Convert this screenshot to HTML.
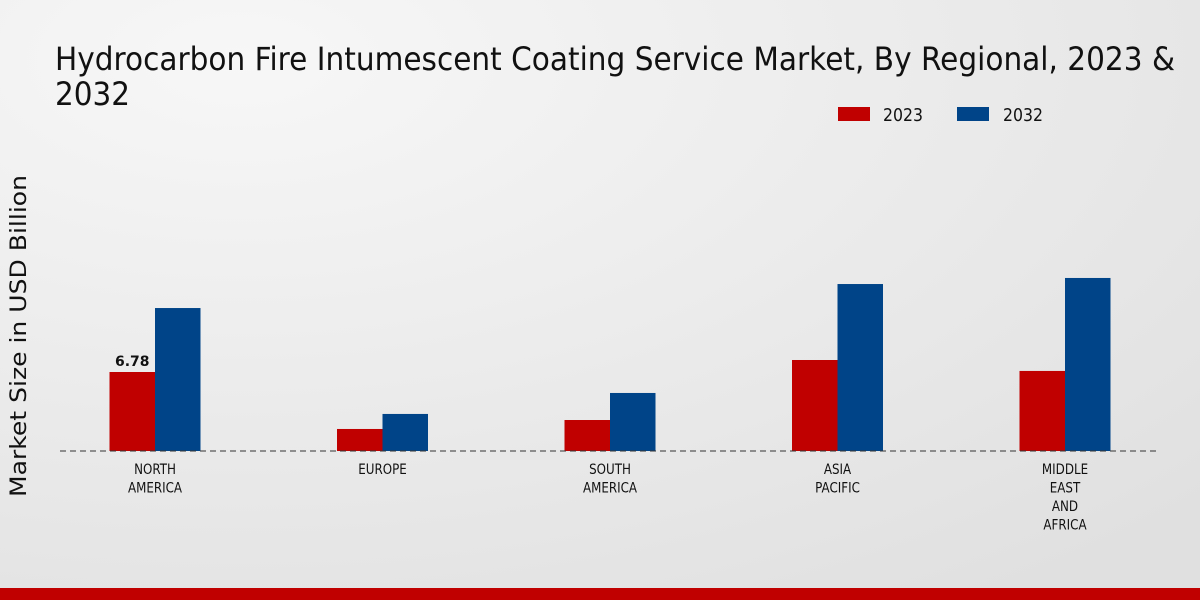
<!DOCTYPE html>
<html><head><meta charset="utf-8"><style>
html,body{margin:0;padding:0;width:1200px;height:600px;overflow:hidden}
svg{display:block;font-family:"DejaVu Sans","Liberation Sans",sans-serif}
</style></head><body>
<svg id="chart" width="1200" height="600" viewBox="0 0 1200 600">
<defs><radialGradient id="bg" cx="0.2" cy="0.1" r="1.1"><stop offset="0" stop-color="#f7f7f7"/><stop offset="1" stop-color="#e0e0e0"/></radialGradient></defs>
<rect width="1200" height="600" fill="url(#bg)"/>
<text x="55" y="70" font-size="32" fill="#111" textLength="1120" lengthAdjust="spacingAndGlyphs">Hydrocarbon Fire Intumescent Coating Service Market, By Regional, 2023 &amp;</text>
<text x="55" y="105" font-size="32" fill="#111" textLength="75" lengthAdjust="spacingAndGlyphs">2032</text>
<rect x="838" y="107" width="32" height="14" fill="#c00000"/>
<text x="883" y="121" font-size="18" fill="#111" textLength="40" lengthAdjust="spacingAndGlyphs">2023</text>
<rect x="957" y="107" width="32" height="14" fill="#004488"/>
<text x="1003" y="121" font-size="18" fill="#111" textLength="40" lengthAdjust="spacingAndGlyphs">2032</text>
<text transform="translate(26,336) rotate(-90)" text-anchor="middle" font-size="22" fill="#111" textLength="322" lengthAdjust="spacingAndGlyphs">Market Size in USD Billion</text>
<g id="bars"></g>
<line x1="60" y1="451" x2="1160" y2="451" stroke="#333" stroke-dasharray="6,4"/>
<rect x="0" y="588" width="1200" height="12" fill="#c00000"/>
</svg>
<script>
const categories=[["NORTH","AMERICA"],["EUROPE"],["SOUTH","AMERICA"],["ASIA","PACIFIC"],["MIDDLE","EAST","AND","AFRICA"]];
const values2023=[6.78,1.89,2.66,7.81,6.87];
const values2032=[12.27,3.18,4.98,14.33,14.85];
const labels2023=["6.78","","","",""];
const NS="http://www.w3.org/2000/svg";
const g=document.getElementById('bars');
const baseY=451, scale=79/6.78, x0=155, step=227.5, bw=45.5;
const yOf=v=>baseY-v*scale;
function mk(t,a){const e=document.createElementNS(NS,t);for(const k in a)e.setAttribute(k,a[k]);g.appendChild(e);return e;}
categories.forEach((c,i)=>{
 const cx=x0+i*step;
 const r=mk('rect',{x:cx-bw,y:yOf(values2023[i]),width:bw,height:baseY-yOf(values2023[i]),fill:'#c00000'});
 
 
 const b=mk('rect',{x:cx,y:yOf(values2032[i]),width:bw,height:baseY-yOf(values2032[i]),fill:'#004488'});
 
 
 if(labels2023[i]){const t=mk('text',{x:cx-bw/2,y:yOf(values2023[i])-6,'text-anchor':'middle','font-size':14,'font-weight':'bold',fill:'#111'});t.textContent=labels2023[i];
 
 }
 c.forEach((line,j)=>{const t=mk('text',{transform:'translate('+cx+','+(474+j*18.5)+') scale(0.85,1)','text-anchor':'middle','font-size':14,fill:'#111'});t.textContent=line;
 
 });
});
</script>
</body></html>
